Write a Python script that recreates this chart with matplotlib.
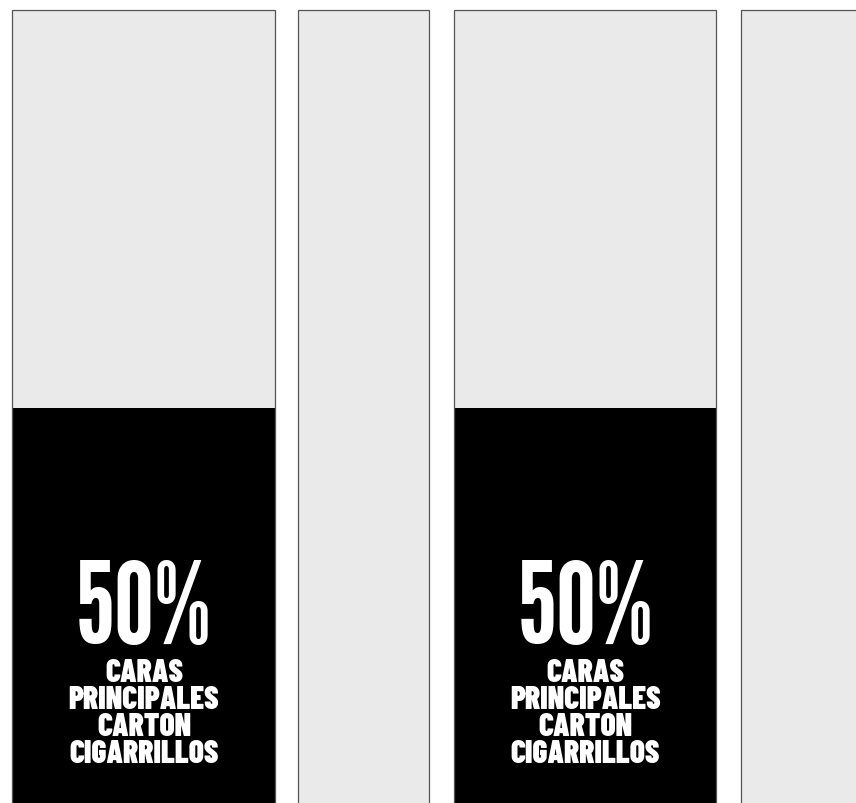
import matplotlib
matplotlib.use("Agg")
import matplotlib.pyplot as plt

# Data: carton faces (width in px-like units) and share of face covered by warning
faces = ["Cara principal 1", "Lateral 1", "Cara principal 2", "Lateral 2"]
face_widths = [263, 131, 262, 131]
coverage_pct = [50, 0, 50, 0]
value_labels = ["50%", "", "50%", ""]
caption_lines = ["CARAS", "PRINCIPALES", "CARTON", "CIGARRILLOS"]

W, H = 856, 804
fig = plt.figure(figsize=(W / 100, H / 100), dpi=100)
ax = fig.add_axes([0, 0, 1, 1])

left_margin = 12.5
gaps = [23, 25, 25]
lefts = [left_margin]
for w, g in zip(face_widths[:-1], gaps):
    lefts.append(lefts[-1] + w + g)

# y scale: faces span from 11 px below top to just past the bottom edge
px_per_unit = 795 / 100.0
ax.set_xlim(0, W)
ax.set_ylim(2 / px_per_unit, 100 + 11 / px_per_unit)
ax.axis("off")

edge = "#555555"
ax.bar(lefts, [100] * len(faces), width=face_widths, align="edge",
       color="#eaeaea", edgecolor="none", zorder=1)
ax.bar(lefts, coverage_pct, width=face_widths, align="edge",
       color="#000000", edgecolor="none", zorder=2)
ax.bar(lefts, [100] * len(faces), width=face_widths, align="edge",
       facecolor="none", edgecolor=edge, linewidth=0.9, zorder=3)

big_fam = ["League Gothic", "Barlow Condensed", "DejaVu Sans"]
cap_fam = ["Barlow Condensed", "Roboto Condensed", "DejaVu Sans"]
for l, w, lab, pct in zip(lefts, face_widths, value_labels, coverage_pct):
    if pct <= 0:
        continue
    cx = l + w / 2
    ax.text(cx, 1 - 643 / H, lab, transform=ax.get_xaxis_transform(),
            ha="center", va="baseline", color="white", fontsize=82,
            fontweight="black", family=big_fam, zorder=4)
    for i, line in enumerate(caption_lines):
        ax.text(cx, 1 - (682 + 27 * i) / H, line,
                transform=ax.get_xaxis_transform(),
                ha="center", va="baseline", color="white", fontsize=22.5,
                fontweight="black", family=cap_fam, zorder=4)

fig.savefig("out.png", dpi=100)
